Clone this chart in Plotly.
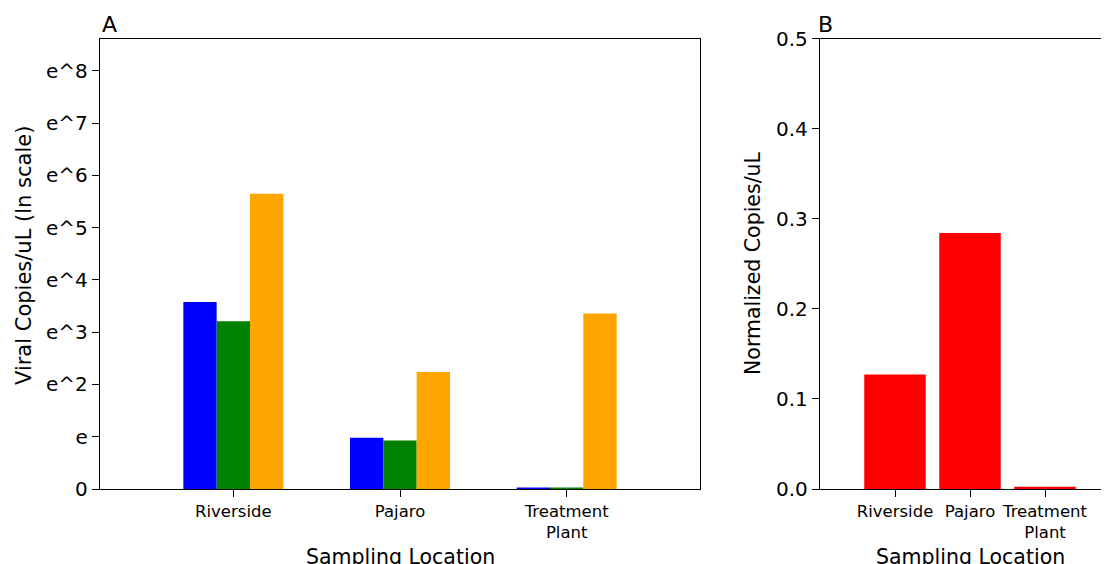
import plotly.graph_objects as go

# ---- data ----
categories = ["Riverside", "Pajaro", "Treatment<br>Plant"]
cat_pos = [0, 1, 2]
series_blue = [3.58, 0.98, 0.02]
series_green = [3.21, 0.93, 0.015]
series_orange = [5.65, 2.24, 3.36]
normalized = [0.127, 0.284, 0.0026]
a_tickvals = [0, 1, 2, 3, 4, 5, 6, 7, 8]
a_ticktext = ["0", "e", "e^2", "e^3", "e^4", "e^5", "e^6", "e^7", "e^8"]
b_tickvals = [0.0, 0.1, 0.2, 0.3, 0.4, 0.5]

# page body has an 8px margin, so the figure is drawn 8px in from the corner
OFF = 8
W, H = 1109 - OFF, 564 - OFF
FONT = "DejaVu Sans"


def px_x(x):
    return (x - OFF) / W


def px_y(y):
    return 1 - (y - OFF) / H


fig = go.Figure()

bw = 0.2
for vals, col, off, name in [
    (series_blue, "#0000ff", -0.3, "Series 1"),
    (series_green, "#008000", -0.1, "Series 2"),
    (series_orange, "#ffa500", 0.1, "Series 3"),
]:
    fig.add_trace(go.Bar(x=cat_pos, y=vals, width=bw, offset=off,
                         marker=dict(color=col, line=dict(width=0)),
                         name=name, xaxis="x", yaxis="y", showlegend=False))

fig.add_trace(go.Bar(x=cat_pos, y=normalized, width=0.82, offset=-0.41,
                     marker=dict(color="#ff0000", line=dict(width=0)),
                     name="Normalized", xaxis="x2", yaxis="y2", showlegend=False))

ydom = [px_y(489), px_y(38.5)]
axis_common = dict(showline=True, linecolor="black", linewidth=1.3,
                   ticks="outside", ticklen=7, tickwidth=1.3, tickcolor="black",
                   showgrid=False, zeroline=False, automargin=False)

fig.update_layout(
    template="none",
    width=W, height=H,
    margin=dict(l=0, r=0, t=0, b=0, pad=0),
    paper_bgcolor="white", plot_bgcolor="white",
    barmode="overlay",
    font=dict(family=FONT, color="black"),
    xaxis=dict(domain=[px_x(100), px_x(700)], range=[-0.8, 2.8],
               tickvals=cat_pos, ticktext=categories, ticklabelstandoff=0,
               tickfont=dict(size=16.5), mirror=True, anchor="y", **axis_common),
    yaxis=dict(domain=ydom, range=[0, 8.62], tickvals=a_tickvals, ticktext=a_ticktext,
               tickfont=dict(size=20), mirror=True, anchor="x", **axis_common),
    xaxis2=dict(domain=[px_x(820), 1.0], range=[-1.0, 2.853],
                tickvals=cat_pos, ticktext=categories, ticklabelstandoff=0,
                tickfont=dict(size=16.5), mirror=True, anchor="y2", **axis_common),
    yaxis2=dict(domain=ydom, range=[0, 0.5], tickvals=b_tickvals, tickformat=".1f",
                tickfont=dict(size=20), mirror=False, anchor="x2", **axis_common),
    annotations=[
        dict(text="A", x=px_x(100), y=px_y(39), xref="paper", yref="paper",
             xanchor="left", yanchor="bottom", showarrow=False, font=dict(size=22)),
        dict(text="B", x=px_x(816), y=px_y(39), xref="paper", yref="paper",
             xanchor="left", yanchor="bottom", showarrow=False, font=dict(size=22)),
        dict(text="Viral Copies/uL (ln scale)", x=px_x(24), y=px_y(256),
             xref="paper", yref="paper", xanchor="center", yanchor="middle",
             textangle=-90, showarrow=False, font=dict(size=21)),
        dict(text="Normalized Copies/uL", x=px_x(753), y=px_y(263),
             xref="paper", yref="paper", xanchor="center", yanchor="middle",
             textangle=-90, showarrow=False, font=dict(size=20.5)),
        dict(text="Sampling Location", x=px_x(400), y=px_y(543),
             xref="paper", yref="paper", xanchor="center", yanchor="top",
             showarrow=False, font=dict(size=20.5)),
        dict(text="Sampling Location", x=px_x(970), y=px_y(543),
             xref="paper", yref="paper", xanchor="center", yanchor="top",
             showarrow=False, font=dict(size=20.5)),
    ],
)

fig.write_html("out.html")
